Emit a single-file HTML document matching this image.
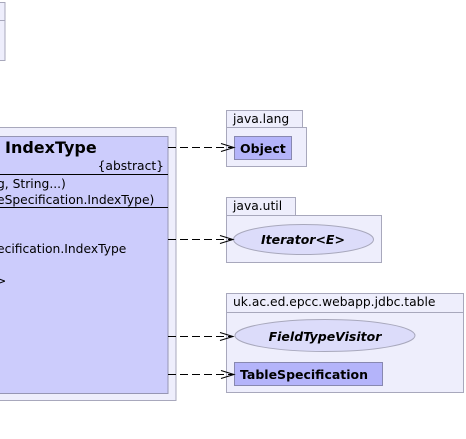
<!DOCTYPE html>
<html><head><style>body{margin:0;background:#fff}svg{display:block}</style></head><body>
<svg width="466" height="439" xmlns="http://www.w3.org/2000/svg" font-family="'DejaVu Sans','Liberation Sans',sans-serif">
<rect x="-10" y="2.5" width="15" height="58" fill="#eeeefc" stroke="#a8a8bc"/>
<line x1="-10" y1="20.5" x2="5" y2="20.5" stroke="#a8a8bc"/>
<rect x="-10" y="127.5" width="186" height="273" fill="#eeeefc" stroke="#a8a8bc"/>
<rect x="-10" y="136.5" width="178" height="257" fill="#ccccfc" stroke="#9696b4"/>
<text x="5" y="153" font-size="16" font-weight="bold" fill="#000">IndexType</text>
<text x="164" y="170" font-size="12.3" text-anchor="end">{abstract}</text>
<line x1="-10" y1="174.5" x2="168" y2="174.5" stroke="#000"/>
<text x="-3" y="188" font-size="12.3">g, String...)</text>
<text x="-3" y="204" font-size="12.3">eSpecification.IndexType)</text>
<line x1="-10" y1="207.5" x2="168" y2="207.5" stroke="#000"/>
<text x="-3" y="253" font-size="12.3">ecification.IndexType</text>
<text x="-4" y="285" font-size="12.3">&gt;</text>
<rect x="226.5" y="110.5" width="76" height="17" fill="#eeeefc" stroke="#a8a8bc"/>
<rect x="226.5" y="127.5" width="80" height="39" fill="#eeeefc" stroke="#a8a8bc"/>
<text x="233" y="123" font-size="12.3">java.lang</text>
<rect x="234.5" y="136.5" width="57" height="23" fill="#b4b4fa" stroke="#8888b0"/>
<text x="240" y="153" font-size="12.5" font-weight="bold">Object</text>
<rect x="226.5" y="197.5" width="69" height="18" fill="#eeeefc" stroke="#a8a8bc"/>
<rect x="226.5" y="215.5" width="155" height="47" fill="#eeeefc" stroke="#a8a8bc"/>
<text x="233" y="210" font-size="12.3">java.util</text>
<ellipse cx="303.5" cy="239.5" rx="70" ry="15" fill="#dcdcfa" stroke="#a8a8bc"/>
<text x="303" y="244" font-size="12.5" font-weight="bold" font-style="italic" text-anchor="middle">Iterator&lt;E&gt;</text>
<rect x="226.5" y="293.5" width="237" height="99" fill="#eeeefc" stroke="#a8a8bc"/>
<line x1="226.5" y1="312.5" x2="463.5" y2="312.5" stroke="#a8a8bc"/>
<text x="233" y="306" font-size="12.3">uk.ac.ed.epcc.webapp.jdbc.table</text>
<ellipse cx="325" cy="335.5" rx="90" ry="16" fill="#dcdcfa" stroke="#a8a8bc"/>
<text x="325" y="341" font-size="12.5" font-weight="bold" font-style="italic" text-anchor="middle">FieldTypeVisitor</text>
<rect x="234.5" y="362.5" width="148" height="23" fill="#b4b4fa" stroke="#8888b0"/>
<text x="240" y="379" font-size="12.5" font-weight="bold">TableSpecification</text>
<g stroke="#000" fill="none">
<line x1="168" y1="147.5" x2="233" y2="147.5" stroke-dasharray="8,4"/>
<polyline points="221,143.5 234,147.5 221,151.5"/>
<line x1="168" y1="239.5" x2="232" y2="239.5" stroke-dasharray="8,4"/>
<polyline points="220,235.5 233,239.5 220,243.5"/>
<line x1="168" y1="336.5" x2="232" y2="336.5" stroke-dasharray="8,4"/>
<polyline points="220,332.5 233,336.5 220,340.5"/>
<line x1="168" y1="374.5" x2="233" y2="374.5" stroke-dasharray="8,4"/>
<polyline points="221,370.5 234,374.5 221,378.5"/>
</g>
</svg>
</body></html>
